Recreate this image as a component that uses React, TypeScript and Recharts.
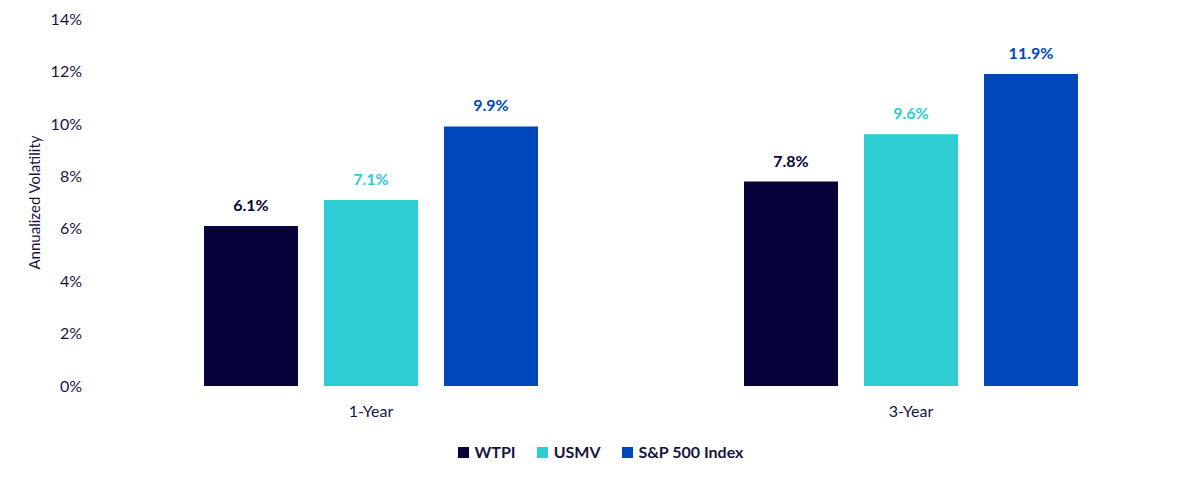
import React from 'react';
import { BarChart, Bar, XAxis, YAxis, Legend, LabelList } from 'recharts';

const categories = ['1-Year', '3-Year'];
const wtpi = [6.1, 7.8];
const usmv = [7.1, 9.6];
const sp500 = [9.9, 11.9];
const yTicks = [0, 2, 4, 6, 8, 10, 12, 14];

const seriesNames = ['WTPI', 'USMV', 'S&P 500 Index'];
const seriesKeys = ['wtpi', 'usmv', 'sp500'];
const seriesColors = ['#05033a', '#2ecdd3', '#0047bb'];

const data = categories.map((c, i) => ({
  name: c,
  wtpi: wtpi[i],
  usmv: usmv[i],
  sp500: sp500[i],
}));

const FONT = 'Lato, "Noto Sans", sans-serif';
const TEXT = '#16153f';

const YLabel = (props: any) => {
  const vb = props.viewBox || {};
  const x = vb.x + 14;
  const y = vb.y + vb.height / 2;
  return (
    <text
      x={x}
      y={y}
      transform={`rotate(-90 ${x} ${y})`}
      textAnchor="middle"
      dominantBaseline="central"
      fill={TEXT}
      fontSize={15}
      fontFamily={FONT}
    >
      Annualized Volatility
    </text>
  );
};

const LegendContent = () => (
  <div
    style={{
      boxSizing: 'border-box',
      height: 50,
      paddingTop: 12,
      display: 'flex',
      justifyContent: 'center',
      alignItems: 'flex-start',
      fontFamily: FONT,
      fontWeight: 700,
      fontSize: 16,
      lineHeight: '20px',
      color: TEXT,
    }}
  >
    {seriesNames.map((n, i) => (
      <div key={n} style={{ display: 'flex', alignItems: 'center', marginRight: i < 2 ? 21 : 0 }}>
        <span
          style={{
            display: 'inline-block',
            width: 11,
            height: 11,
            background: seriesColors[i],
            marginRight: 6,
          }}
        />
        <span>{n}</span>
      </div>
    ))}
  </div>
);

export default function App() {
  return (
    <div style={{ position: 'absolute', left: 0, top: 0, width: 1200, height: 480, background: '#fff' }}>
      <BarChart
        width={1200}
        height={480}
        data={data}
        margin={{ top: 19, right: 19, bottom: 0, left: 20 }}
        barGap={26}
        barSize={94}
      >
        <XAxis
          dataKey="name"
          axisLine={false}
          tickLine={false}
          tickMargin={14}
          height={44}
          tick={{ fill: TEXT, fontSize: 16, fontFamily: FONT }}
        />
        <YAxis
          width={81}
          domain={[0, 14]}
          ticks={yTicks}
          axisLine={false}
          tickLine={false}
          tickMargin={13}
          tickFormatter={(v: number) => `${v}%`}
          tick={{ fill: TEXT, fontSize: 16, fontFamily: FONT }}
          label={<YLabel />}
        />
        <Legend verticalAlign="bottom" height={50} content={<LegendContent />} />
        {seriesKeys.map((k, i) => (
          <Bar key={k} dataKey={k} name={seriesNames[i]} fill={seriesColors[i]} isAnimationActive={false}>
            <LabelList
              dataKey={k}
              position="top"
              offset={15}
              formatter={(v: number) => `${v.toFixed(1)}%`}
              fill={seriesColors[i]}
              fontSize={16}
              fontWeight={700}
              fontFamily={FONT}
            />
          </Bar>
        ))}
      </BarChart>
    </div>
  );
}
